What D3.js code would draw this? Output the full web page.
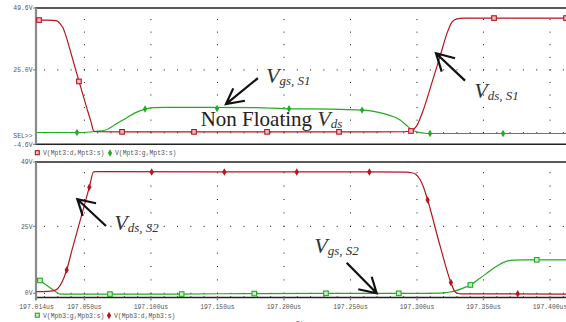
<!DOCTYPE html>
<html>
<head>
<meta charset="utf-8">
<script src="https://cdn.jsdelivr.net/npm/d3@7"></script>
<style>
  body { margin: 0; background: #fff; }
  svg { display: block; }
  .mono { font-family: "Liberation Mono", "DejaVu Sans Mono", monospace; font-size: 6.4px; fill: #555; }
  .anno { font-family: "Liberation Serif", "DejaVu Serif", serif; fill: #333; }
</style>
</head>
<body>
<svg id="chart" width="566" height="322"></svg>
<script>
// time is ns after 197.000us, values in volts
const xTicks = [14, 50, 100, 150, 200, 250, 300, 350, 400];
const topTicks = [[49.6, "49.6V"], [25, "25.0V"], [-4.6, "-4.6V"]];
const botTicks = [[49, "49V"], [25, "25V"], [0, "0V"]];

const vdsS1 = [[14,44.8],[22,44.8],[26,44.7],[28,44.6],[30,44.3],[32,43.2],[34,41.6],[35.5,39.5],[40,31.5],[46,20.3],[52,9.5],[55,4.3],[57,0.7],[59,0.4],[80,0.35],[150,0.35],[240,0.35],[290,0.4],[295.5,0.7],[299.5,2.5],[304.8,9.1],[311,19.5],[318,31.6],[322.6,39.6],[326.3,44],[330,45.3],[335,45.6],[412,45.6]];
const vgsS1 = [[14,0.1],[45,0.1],[52,0.2],[58,0.5],[66,1.1],[75,3.9],[82,6],[88,7.9],[95.6,9.4],[102,10],[110,10.1],[140,10.1],[180,10.0],[204,9.5],[235,9.4],[258.7,9.0],[265,8.7],[272,8.0],[280,6.8],[287.3,5.1],[292,3.0],[295.5,1.4],[299,0.5],[302.3,0.05],[306,-0.2],[310,-0.3],[412,-0.3]];
const vdsS2 = [[14,0.6],[22,0.7],[27,1.0],[30,1.8],[33,4.0],[36.7,8.7],[40.5,15.8],[47,27.5],[53.7,39.6],[56.9,45.3],[60,45.4],[150,45.3],[264,45.3],[292,45.2],[296,45.0],[299,44.4],[302.5,42.3],[305,39.5],[308,34.8],[317.5,17.4],[325.5,4.0],[328,1.0],[329.5,0.2],[333,-0.2],[412,-0.3]];
const vgsS2 = [[14,5.3],[16.6,4.8],[20,3.6],[25,1.8],[29,0.4],[31,-0.2],[34,-0.3],[120,-0.3],[170,-0.1],[230,0],[305,0],[318,0.05],[322,0.3],[328.9,0.9],[334,1.8],[340.1,3.1],[347,5.5],[355,8.4],[361,10.5],[366.4,11.8],[372.6,12.4],[380,12.5],[412,12.5]];

// marker points on the traces
const vdsS1Marks = [[15.9,44.8],[45.9,20.4],[78.3,0.35],[132.4,0.35],[187.3,0.35],[241.4,0.35],[295.5,0.7],[357.9,45.6],[412,45.6]];
const vgsS1Marks = [[44.4,0.1],[95.6,9.4],[149.7,9.6],[203.8,9.5],[258.7,9.0],[309.8,-0.3],[364.7,-0.3]];
const vdsS2Marks = [[36.7,8.7],[53.7,39.6],[100.6,45.3],[155.2,45.3],[209.6,45.3],[264.2,45.3],[308,34.8],[325.5,4.0],[375.7,-0.2]];
const vgsS2Marks = [[16.6,4.8],[69.2,-0.3],[123.1,-0.3],[177.7,-0.1],[231.6,0],[286.3,0],[340.1,3.1],[390,12.5]];

const legendTop = ["V(Mpt3:d,Mpt3:s)", "V(Mpt3:g,Mpt3:s)"];
const legendBot = ["V(Mpb3:g,Mpb3:s)", "V(Mpb3:d,Mpb3:s)"];

// annotation text: [panel, time, volts, main, italic V, subscript]
const labels = [
  ["top", 186.5, 19.9, "", "V", "gs, S1"],
  ["top", 137.4, 2.7, "Non Floating ", "V", "ds"],
  ["top", 343.1, 13.7, "", "V", "ds, S1"],
  ["bot", 72.5, 23.6, "", "V", "ds, S2"],
  ["bot", 222.8, 14.9, "", "V", "gs, S2"]
];
// arrow tips: [panel, time, volts]
const arrowTips = [["top", 156.4, 11.4], ["top", 314.3, 31.6], ["bot", 44.7, 35.1], ["bot", 269.7, 0]];

const RED = "#b8141c", GREEN = "#22aa22";
const svg = d3.select("#chart");

const x = d3.scaleLinear().domain([14, 412]).range([36.5, 566]);
const panels = {
  top: { y: d3.scaleLinear().domain([-4.6, 49.6]).range([144.3, 8]), ticks: topTicks, rows: [25, 0] },
  bot: { y: d3.scaleLinear().domain([-1.57, 49]).range([297.5, 162]), ticks: botTicks, rows: [25, 0] }
};

const minor = d3.range(20, 412, 10);

Object.entries(panels).forEach(([key, p]) => {
  const [y0, y1] = p.y.range();
  const g = svg.append("g");

  // dotted grid
  p.rows.forEach(v => {
    g.selectAll(null).data(minor).join("rect")
      .attr("x", d => x(d) - 0.5).attr("y", p.y(v) - 0.5)
      .attr("width", 1).attr("height", 1).attr("fill", "#111");
  });
  const colV = d3.range(Math.ceil(p.y.domain()[0] / 5) * 5, p.y.domain()[1], 5).filter(v => v > p.y.domain()[0] + 1);
  xTicks.slice(1).forEach(t => {
    g.selectAll(null).data(colV).join("rect")
      .attr("x", x(t) - 0.5).attr("y", d => p.y(d) - 0.5)
      .attr("width", 1).attr("height", 1).attr("fill", "#111");
  });

  // borders
  g.append("line").attr("x1", 35).attr("x2", 566).attr("y1", y1).attr("y2", y1)
    .attr("stroke", "#222").attr("stroke-width", 1.4);
  g.append("line").attr("x1", 35).attr("x2", 566).attr("y1", y0).attr("y2", y0)
    .attr("stroke", "#222").attr("stroke-width", 1.4);
  g.append("line").attr("x1", 36).attr("x2", 36).attr("y1", y1).attr("y2", key === "bot" ? y0 + 3 : y0)
    .attr("stroke", "#8a8a8a").attr("stroke-width", 2.2);

  // y ticks
  p.ticks.forEach(([v, lab]) => {
    g.append("line").attr("x1", 33).attr("x2", 36).attr("y1", p.y(v)).attr("y2", p.y(v))
      .attr("stroke", "#777").attr("stroke-width", 1);
    g.append("text").attr("class", "mono").attr("x", 32.5).attr("y", p.y(v) + 2.2)
      .attr("text-anchor", "end").text(lab);
  });
});

svg.append("text").attr("class", "mono").attr("x", 32.5).attr("y", 138.3)
  .attr("text-anchor", "end").text("SEL>>");

// x axis ticks on the bottom panel
const yb = panels.bot.y.range()[0];
svg.selectAll(null).data(minor).join("line")
  .attr("x1", d => x(d)).attr("x2", d => x(d)).attr("y1", yb - 1.5).attr("y2", yb)
  .attr("stroke", "#333").attr("stroke-width", 0.8);
svg.selectAll(null).data(xTicks.slice(1)).join("line")
  .attr("x1", d => x(d)).attr("x2", d => x(d)).attr("y1", yb).attr("y2", yb + 3)
  .attr("stroke", "#888").attr("stroke-width", 1.4);
svg.selectAll(null).data(xTicks).join("text").attr("class", "mono")
  .attr("x", d => x(d)).attr("y", 308.5).attr("text-anchor", "middle")
  .text(d => (197 + d / 1000).toFixed(3) + "us");
svg.append("text").attr("class", "mono").attr("x", 296).attr("y", 325.5).text("Time");

// clip paths
Object.entries(panels).forEach(([key, p]) => {
  svg.append("clipPath").attr("id", "clip-" + key).append("rect")
    .attr("x", 36).attr("y", p.y.range()[1]).attr("width", 530)
    .attr("height", p.y.range()[0] - p.y.range()[1]);
});

function trace(key, data, color) {
  const p = panels[key];
  const line = d3.line().x(d => x(d[0])).y(d => p.y(d[1])).curve(d3.curveMonotoneX);
  svg.append("path").attr("clip-path", `url(#clip-${key})`).datum(data)
    .attr("d", line).attr("fill", "none").attr("stroke", color).attr("stroke-width", 1.2);
}
function squares(key, data, color) {
  const p = panels[key];
  svg.append("g").attr("clip-path", `url(#clip-${key})`).selectAll("rect").data(data).join("rect")
    .attr("x", d => x(d[0]) - 2.3).attr("y", d => p.y(d[1]) - 2.3)
    .attr("width", 4.6).attr("height", 4.6)
    .attr("fill", color === RED ? "#f0c0c0" : "#c8eec8").attr("stroke", color).attr("stroke-width", 1.1);
}
function diamonds(key, data, color) {
  const p = panels[key];
  svg.append("g").attr("clip-path", `url(#clip-${key})`).selectAll("path").data(data).join("path")
    .attr("transform", d => `translate(${x(d[0])},${p.y(d[1])})`)
    .attr("d", d3.symbol(d3.symbolDiamond, 16)).attr("fill", color);
}

trace("top", vgsS1, GREEN);
trace("top", vdsS1, RED);
squares("top", vdsS1Marks, RED);
diamonds("top", vgsS1Marks, GREEN);
trace("bot", vgsS2, GREEN);
trace("bot", vdsS2, RED);
squares("bot", vgsS2Marks, GREEN);
diamonds("bot", vdsS2Marks, RED);

// legends
function legend(yPos, names, first, second) {
  const g = svg.append("g");
  g.append("rect").attr("x", 35.3).attr("y", yPos - 2.3).attr("width", 4).attr("height", 4)
    .attr("fill", first.fill).attr("stroke", first.stroke).attr("stroke-width", 1.1);
  g.append("text").attr("class", "mono").attr("x", 43).attr("y", yPos + 2.2).text(names[0]);
  g.append("path").attr("transform", `translate(${second.cx},${yPos})`)
    .attr("d", d3.symbol(d3.symbolDiamond, 16)).attr("fill", second.fill);
  g.append("text").attr("class", "mono").attr("x", second.cx + 5).attr("y", yPos + 2.2).text(names[1]);
}
legend(153, legendTop, { fill: "#f0c0c0", stroke: RED }, { cx: 110, fill: GREEN });
legend(315.5, legendBot, { fill: "#c8eec8", stroke: GREEN }, { cx: 109, fill: RED });

// annotation text
labels.forEach(([key, t, v, main, vv, sub]) => {
  const t0 = svg.append("text").attr("class", "anno")
    .attr("x", x(t)).attr("y", panels[key].y(v));
  if (main) t0.append("tspan").attr("font-size", 21).attr("fill", "#222").text(main);
  t0.append("tspan").attr("font-size", 22).attr("font-style", "italic").text(vv);
  t0.append("tspan").attr("font-size", 13).attr("font-style", "italic").attr("dy", 2).text(sub);
});

// arrows: tail and two head strokes, offsets from the tip in px
const arrowShape = [
  { tail: [32, -26], h1: [7.3, -15.7], h2: [19, -3.3] },
  { tail: [29, 27.4], h1: [19, 5], h2: [5.7, 18.4] },
  { tail: [28.7, 26.7], h1: [18.7, 4], h2: [5.4, 16.7] },
  { tail: [-30, -30.6], h1: [-5, -16.6], h2: [-18.4, -4] }
];
arrowTips.forEach(([key, t, v], i) => {
  const px = x(t), py = panels[key].y(v), s = arrowShape[i];
  const path = d3.path();
  path.moveTo(px + s.tail[0], py + s.tail[1]); path.lineTo(px, py);
  path.moveTo(px + s.h1[0], py + s.h1[1]); path.lineTo(px, py); path.lineTo(px + s.h2[0], py + s.h2[1]);
  svg.append("path").attr("d", path.toString()).attr("fill", "none")
    .attr("stroke", "#111").attr("stroke-width", 2.2).attr("stroke-linejoin", "miter");
});
</script>
</body>
</html>
